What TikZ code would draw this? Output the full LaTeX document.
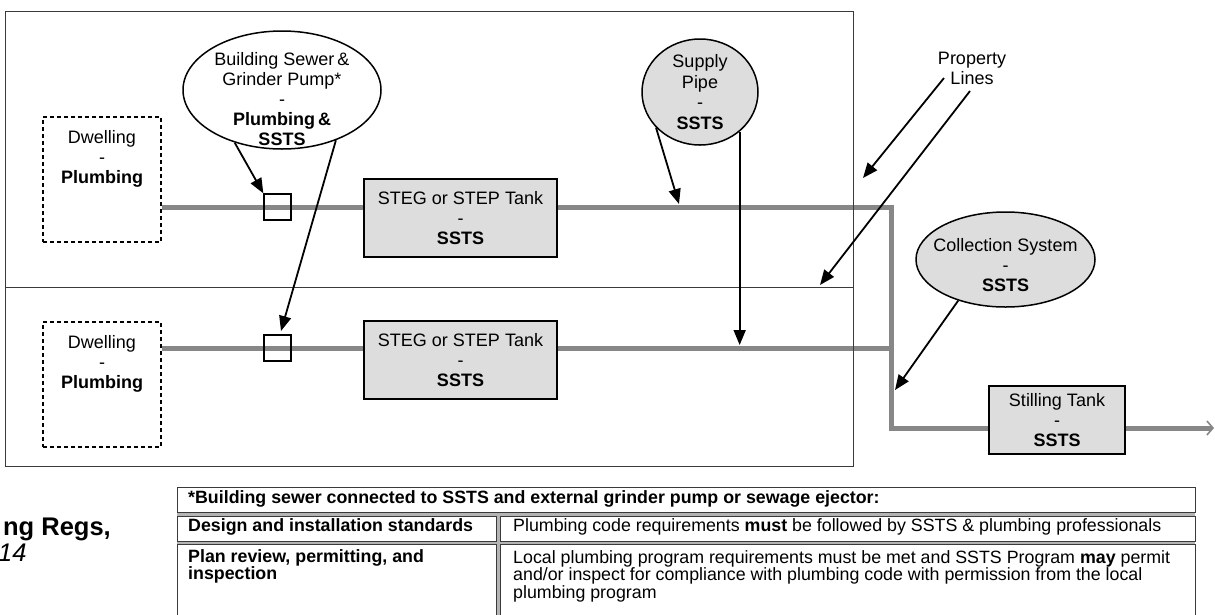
\documentclass[tikz,border=0pt]{standalone}
\usepackage{fontspec}
\setmainfont{Liberation Sans}
\usetikzlibrary{arrows.meta,shapes.geometric,backgrounds,calc}

\definecolor{boxgray}{HTML}{DDDDDD}
\definecolor{pipegray}{HTML}{878787}
\definecolor{rulegray}{HTML}{3A3A3A}
\definecolor{gapgray}{HTML}{B4B4B4}

\begin{document}
\begin{tikzpicture}[x=1pt,y=-1pt,
  lbl/.style={font=\fontsize{18}{20}\selectfont, align=center, inner sep=0pt},
  dwellbox/.style={draw=black, dash pattern=on 4pt off 3pt, line width=1.3pt,
    minimum width=118pt, minimum height=125pt, inner sep=0pt},
  tankbox/.style={draw=black, line width=1.6pt, fill=boxgray, inner sep=0pt, lbl},
  cleanout/.style={draw=black, line width=1.3pt, minimum width=27pt,
    minimum height=26pt, inner sep=0pt},
  bubble/.style={ellipse, draw=black, line width=1.5pt, inner sep=0pt},
  pipe/.style={draw=pipegray, line width=5pt},
  pointer/.style={draw=black, line width=1.8pt, -{Triangle[length=15pt,width=12pt]}},
  lot/.style={draw=rulegray, line width=1pt},
  cell/.style={draw=rulegray, line width=1pt, fill=white},
  celltxt/.style={font=\fontsize{17.8}{20}\selectfont, anchor=base west, inner sep=0pt},
]
\useasboundingbox (0,0) rectangle (1215,614);
\clip (0,0) rectangle (1215,614);

% ---- dwellings, cleanouts and tanks
\node[dwellbox] (dw1) at (102,179.5) {};
\node[lbl, anchor=north] (dw1t) at ($(dw1.north)+(0,14)$) {Dwelling\\-\\\textbf{Plumbing}};
\node[dwellbox] (dw2) at (102,384.5) {};
\node[lbl, anchor=north] (dw2t) at ($(dw2.north)+(0,14)$) {Dwelling\\-\\\textbf{Plumbing}};

\node[cleanout] (sq1) at (277.5,207) {};
\node[cleanout] (sq2) at (277.5,348) {};

\node[tankbox, minimum width=193pt, minimum height=78pt] (tank1) at (460.5,218)
  {STEG or STEP Tank\\-\\\textbf{SSTS}};
\node[tankbox, minimum width=193pt, minimum height=78pt] (tank2) at (460.5,360)
  {STEG or STEP Tank\\-\\\textbf{SSTS}};

\node[tankbox, minimum width=136pt, minimum height=68pt] (still) at (1057,420)
  {Stilling Tank\\-\\\textbf{SSTS}};

% ---- callout bubbles
\node[bubble, fill=white, minimum width=198pt, minimum height=118pt] (bs) at (282,90) {};
\node[lbl, anchor=north] (bst) at ($(bs.north)+(0,22)$)
  {Building Sewer\,\&\\Grinder Pump*\\-\\\textbf{Plumbing\,\&}\\\textbf{SSTS}};

\node[bubble, fill=boxgray, minimum width=116pt, minimum height=106pt, lbl,
  font=\fontsize{18}{20.5}\selectfont] (sp) at (700,92) {Supply\\Pipe\\-\\\textbf{SSTS}};

\node[bubble, fill=boxgray, minimum width=179pt, minimum height=95pt] (co) at (1005.5,259.5) {};
\node[lbl] (cot) at ($(co.center)+(0,6)$) {Collection System\\-\\\textbf{SSTS}};

\node[lbl] (pl) at (972,68) {Property\\Lines};

% ---- pipes and property lines underneath
\coordinate (jt) at (891,207);
\coordinate (jm) at (891,348);
\coordinate (jb) at (891,428);
\coordinate (out) at (1214,428);
\begin{scope}[on background layer]
  \draw[pipe] (dw1.east |- sq1) -- (tank1.west |- sq1);
  \draw[pipe] (tank1.east |- sq1) -- (jt) -- (jb) -- (still.west |- jb);
  \draw[pipe] (dw2.east |- sq2) -- (tank2.west |- sq2);
  \draw[pipe] (tank2.east |- sq2) -- (jm);
  \draw[pipe, -{Straight Barb[length=6pt,width=14pt,line width=1.6pt]}]
    (still.east |- jb) -- (out);
  \draw[lot] (5,11) rectangle (853,466);
  \draw[lot] (5,287.5) -- (853,287.5);
\end{scope}

% ---- pointers
\coordinate (s1) at (679,204);
\coordinate (s2) at (739,345);
\coordinate (g2) at (281,331);
\coordinate (c1) at (895,390);
\coordinate (p1a) at (944,78);
\coordinate (p1b) at (863,178);
\coordinate (p2a) at (970,91);
\coordinate (p2b) at (820,285);

\draw[pointer] (bs.228) -- (sq1.north west);
\draw[pointer] (bs.317) -- (g2);
\draw[pointer] (sp.219) -- (s1);
\draw[pointer] (sp.315) -- (sp.315 |- s2);
\draw[pointer] (co.221) -- (c1);
\draw[pointer] (p1a) -- (p1b);
\draw[pointer] (p2a) -- (p2b);

% ---- responsibilities table
\fill[gapgray] (177,487) rectangle (1195,630);
\draw[cell] (177,487) rectangle (1195,512);
\draw[cell] (177,516) rectangle (496,541);
\draw[cell] (500,516) rectangle (1195,541);
\draw[cell] (177,544) rectangle (496,640);
\draw[cell] (500,544) rectangle (1195,640);

\node[celltxt] (th) at (188,503)
  {\bfseries *Building sewer connected to SSTS and external grinder pump or sewage ejector:};
\node[celltxt] (r1a) at (188,531) {\bfseries Design and installation standards};
\node[celltxt] (r1b) at (513,531)
  {Plumbing code requirements \textbf{must} be followed by SSTS \& plumbing professionals};
\node[celltxt] (r2a) at (188,562) {\bfseries Plan review, permitting, and};
\node[celltxt] (r2a2) at (188,579) {\bfseries inspection};
\node[celltxt] (r2b) at (513,563)
  {Local plumbing program requirements must be met and SSTS Program \textbf{may} permit};
\node[celltxt] (r2b2) at (513,580)
  {and/or inspect for compliance with plumbing code with permission from the local};
\node[celltxt] (r2b3) at (513,598) {plumbing program};

% ---- side caption
\node[font=\fontsize{25.5}{28}\selectfont\bfseries, anchor=base east, inner sep=0pt]
  (regs) at (111,535) {ng Regs,};
\node[font=\fontsize{25.5}{28}\selectfont\itshape, anchor=base west, inner sep=0pt]
  (yr) at (-2,561) {14};
\end{tikzpicture}
\end{document}
